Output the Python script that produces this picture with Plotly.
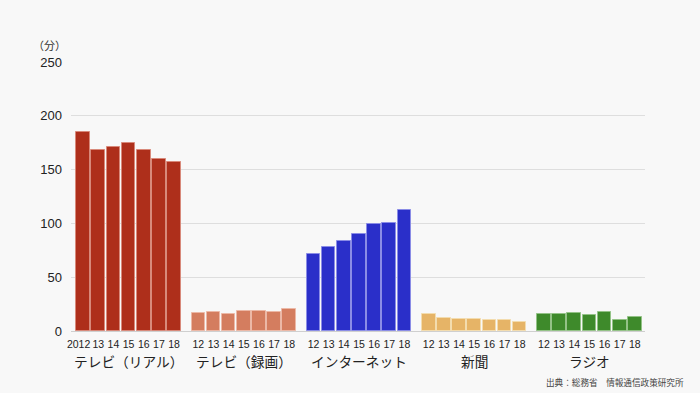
import plotly.graph_objects as go

groups = ["テレビ（リアル）", "テレビ（録画）", "インターネット", "新聞", "ラジオ"]
years_first = ["2012", "13", "14", "15", "16", "17", "18"]
years_other = ["12", "13", "14", "15", "16", "17", "18"]
tv_real = [184.7, 168.3, 170.8, 174.3, 168.0, 159.4, 156.7]
tv_rec = [17.0, 18.0, 15.9, 18.6, 18.7, 17.2, 20.3]
internet = [71.6, 77.9, 83.4, 90.4, 99.8, 100.4, 112.4]
newspaper = [15.5, 11.8, 11.6, 11.6, 10.3, 10.2, 8.7]
radio = [16.0, 15.7, 16.8, 14.9, 17.2, 10.6, 13.0]
series = [tv_real, tv_rec, internet, newspaper, radio]
colors = ["#ae2f1b", "#d47d5f", "#2a2fc9", "#e6b467", "#3e8a2b"]
edge = ["#d8897a", "#ecb8a6", "#8a8ce6", "#f3dcae", "#93c286"]
yticks = [0, 50, 100, 150, 200, 250]

GROUP_PITCH = 7.6
fig = go.Figure()
tickvals, ticktext = [], []
for g, (vals, c, e) in enumerate(zip(series, colors, edge)):
    xs = [g * GROUP_PITCH + i for i in range(len(vals))]
    fig.add_trace(go.Bar(x=xs, y=vals, width=0.9, marker=dict(color=c, line=dict(color=e, width=1)),
                         showlegend=False, hoverinfo="y"))
    labels = years_first if g == 0 else years_other
    for i, (x, t) in enumerate(zip(xs, labels)):
        tickvals.append(x - 0.3 if len(t) > 2 else x)
        ticktext.append(t)
    fig.add_annotation(x=g * GROUP_PITCH + 3, y=-0.112, xref="x", yref="paper", text=groups[g],
                       showarrow=False, font=dict(size=13.7, color="#222"), yanchor="middle")

fig.add_annotation(x=-0.038, y=1.065, xref="paper", yref="paper", text="（分）", showarrow=False,
                   font=dict(size=11, color="#333"), xanchor="center", yanchor="middle")
fig.add_annotation(x=1.071, y=-0.19, xref="paper", yref="paper", text="出典：総務省　情報通信政策研究所",
                   showarrow=False, font=dict(size=8.6, color="#444"), xanchor="right", yanchor="middle")

fig.update_layout(
    width=700, height=393,
    paper_bgcolor="#f8f8f8", plot_bgcolor="#f8f8f8",
    margin=dict(l=71, r=55, t=62, b=62, autoexpand=False),
    font=dict(family="Noto Sans CJK JP, Noto Sans, sans-serif", color="#222"),
    bargap=0,
    xaxis=dict(range=[-0.8, 37.07], tickmode="array", tickvals=tickvals, ticktext=ticktext,
               showgrid=False, zeroline=False, showline=False, ticks="", tickangle=0, automargin=False,
               ticklabelstandoff=5,
               tickfont=dict(size=10.5, family="Liberation Sans, Arial, sans-serif", color="#222")),
    yaxis=dict(range=[0, 250], tickvals=yticks, showgrid=True, gridcolor="#dedede", gridwidth=1,
               zeroline=True, zerolinecolor="#cfcfcf", zerolinewidth=1, ticks="", ticklabelstandoff=8,
               automargin=False,
               tickfont=dict(size=13, family="Liberation Sans, Arial, sans-serif", color="#222")),
)
fig.write_html("out.html", config={"displayModeBar": False},
               post_script="document.body.style.margin='0';document.body.style.background='#f8f8f8';")
